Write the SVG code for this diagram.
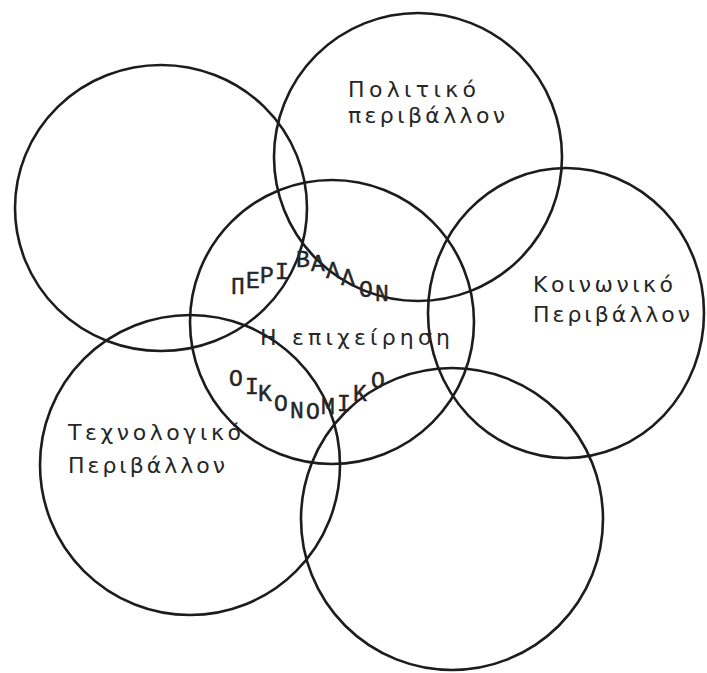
<svg xmlns="http://www.w3.org/2000/svg" width="707" height="673" viewBox="0 0 707 673">
<style>
.c{fill:none;stroke:#1c1c1c;stroke-width:2.6}
.lbl{font-family:"DejaVu Sans","Noto Sans",sans-serif;font-size:22px;fill:#262626}
.cap{font-family:"Liberation Mono","DejaVu Sans Mono",monospace;font-size:23px;fill:#262626;stroke:#262626;stroke-width:0.5}
</style>
<rect width="707" height="673" fill="#ffffff"/>
<g id="circle-top-left"><ellipse class="c" cx="161" cy="208" rx="146" ry="143"/></g>
<g id="political"><circle class="c" cx="418" cy="157" r="144"/>
<text class="lbl" x="348" y="97" textLength="128" lengthAdjust="spacing">Πολιτικό</text>
<text class="lbl" x="348" y="123" textLength="157" lengthAdjust="spacing">περιβάλλον</text></g>
<g id="social"><ellipse class="c" cx="566" cy="313" rx="138" ry="145"/>
<text class="lbl" x="533" y="292" textLength="140" lengthAdjust="spacing">Κοινωνικό</text>
<text class="lbl" x="533" y="322" textLength="157" lengthAdjust="spacing">Περιβάλλον</text></g>
<g id="technological"><circle class="c" cx="190" cy="465" r="150"/>
<text class="lbl" x="68" y="440" textLength="173" lengthAdjust="spacing">Τεχνολογικό</text>
<text class="lbl" x="68" y="473" textLength="157" lengthAdjust="spacing">Περιβάλλον</text></g>
<g id="circle-bottom"><circle class="c" cx="452" cy="519" r="151"/></g>
<g id="enterprise"><circle class="c" cx="332" cy="322" r="142"/>
<text class="lbl" x="260" y="345" textLength="190" lengthAdjust="spacing">Η επιχείρηση</text></g>
<g id="environment-label" class="cap">
<text x="231" y="294">Π</text><text x="246" y="288">Ε</text><text x="260" y="283">Ρ</text><text x="275" y="279">Ι</text>
<text x="296" y="267">Β</text><text x="311" y="271">Α</text><text x="326" y="278">Λ</text><text x="341" y="285">Λ</text>
<text x="359" y="297">Ο</text><text x="375" y="301">Ν</text>
</g>
<g id="economic-label" class="cap">
<text x="229" y="386">Ο</text><text x="245" y="394">Ι</text><text x="258" y="401">Κ</text><text x="274" y="411">Ο</text>
<text x="290" y="418">Ν</text><text x="306" y="419">Ο</text><text x="321" y="414">Μ</text><text x="337" y="411">Ι</text>
<text x="353" y="401">Κ</text><text x="371" y="388">Ο</text>
</g>
<g id="connectors"/>
</svg>
